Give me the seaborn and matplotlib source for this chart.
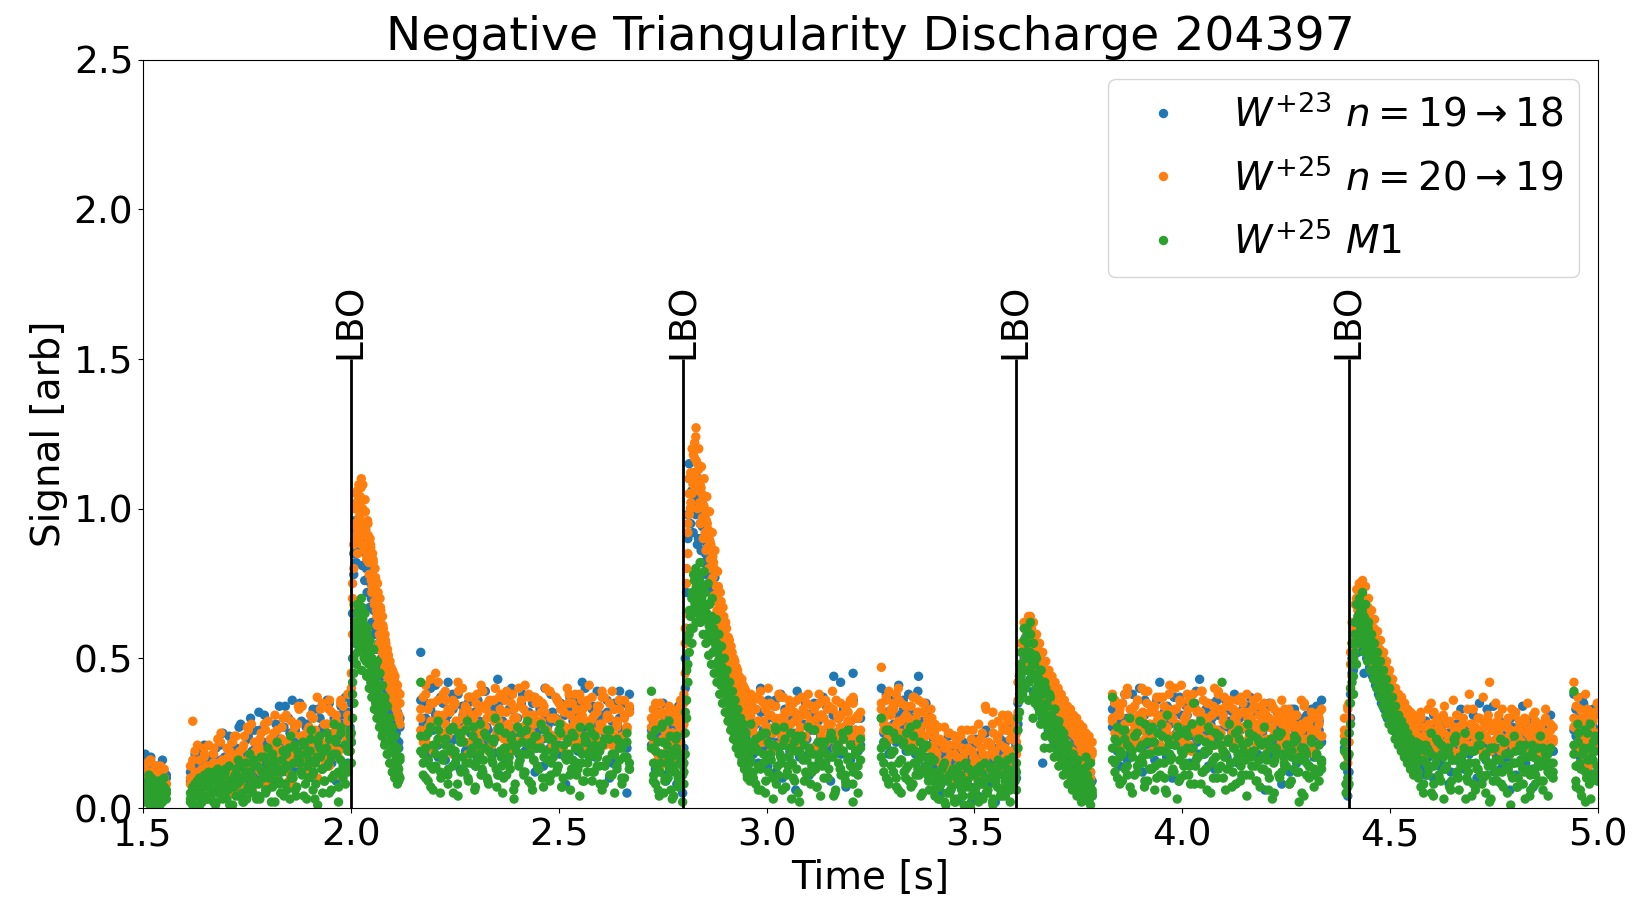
import numpy as np
import pandas as pd
import matplotlib
matplotlib.use("Agg")
import matplotlib.pyplot as plt
import seaborn as sns

# ---- data -------------------------------------------------------------
series_labels = [r"$W^{+23}$ $n=19\rightarrow18$",
                 r"$W^{+25}$ $n=20\rightarrow19$",
                 r"$W^{+25}$ $M1$"]
series_colors = ["#1f77b4", "#ff7f0e", "#2ca02c"]

lbo_times = [2.0, 2.8, 3.6, 4.4]
lbo_top = 1.5

# time windows of the acquired samples (s)
seg_start = [1.500, 1.614, 2.001, 2.168, 2.723, 2.801, 2.962, 3.276, 3.601, 3.832, 4.390, 4.401, 4.562, 4.942]
seg_end   = [1.556, 1.998, 2.118, 2.670, 2.798, 2.960, 3.226, 3.598, 3.783, 4.335, 4.398, 4.560, 4.892, 4.998]

# ---------- W+23 n=19->18 (blue) ----------
w23_n19_a = [
    [.12,.18,.08,.15,.05,.10,.14,.03,.09,.13,.06,.11],
    [.12,.06,.18,.10,.14,.08,.21,.15,.04,.17,.11,.20,.09,.16,.25,.07,.13,.19,.22,.10,
     .15,.27,.12,.18,.08,.24,.30,.14,.20,.11,.26,.16,.31,.13,.21,.09,.18,.28,.15,.23,
     .19,.34,.12,.25,.36,.17,.22,.14,.29,.20,.27,.11,.24,.33,.16,.21,.30,.13,.26,.19,
     .35,.17,.28,.09,.24,.31,.20,.37,.15,.27],
    [.22,.50,.85,.93,1.00,.88,1.04,.95,.90,.99,.86,.93,.80,.88,.77,.84,.70,.78,.66,.73,
     .60,.68,.55,.63,.50,.57,.45,.52,.40,.47,.36,.43,.32,.39,.28,.35,.25,.32,.22,.30],
    [.52,.28,.35,.20,.40,.26,.31,.17,.37,.24,.29,.42,.22,.33,.15,.38,.27,.31,.19,.35,
     .25,.30,.14,.36,.28,.22,.39,.26,.32,.18,.34,.43,.24,.29,.16,.37,.27,.33,.21,.30,
     .25,.38,.19,.31,.26,.35,.12,.28,.33,.23,.40,.27,.20,.32,.29,.36,.18,.25,.31,.22,
     .37,.26,.30,.15,.34,.42,.24,.28,.21,.33,.27,.39,.19,.31,.25,.36,.10,.29,.34,.22,
     .30,.26,.35,.05,.38],
    [.26,.33,.19,.28,.14,.31,.23,.09,.27,.21,.30,.16,.25,.34,.20,.05],
    [.20,.40,.60,.90,1.10,.95,1.02,1.08,1.20,1.05,.88,1.10,.95,1.02,.90,.97,.85,.92,.80,.87,
     .75,.82,.70,.77,.64,.72,.60,.66,.55,.62,.50,.57,.46,.52,.42,.49,.39,.45,.36,.42,
     .33,.40,.30,.37,.28,.35,.26,.32,.22,.30],
    [.35,.22,.28,.15,.32,.26,.19,.36,.24,.30,.12,.27,.38,.21,.29,.17,.33,.25,.06,.31,
     .23,.28,.35,.18,.26,.32,.14,.29,.24,.37,.20,.27,.09,.31,.25,.22,.42,.19,.34,.28,
     .16,.45,.26,.30,.21],
    [.40,.25,.32,.18,.36,.28,.22,.41,.26,.33,.19,.38,.24,.30,.15,.44,.27,.21,.35,.17,
     .29,.23,.16,.20,.08,.18,.11,.24,.06,.15,.19,.03,.13,.22,.10,.17,.07,.21,.14,.04,
     .18,.12,.25,.09,.16,.20,.02,.14,.23,.11,.19,.26,.08,.17,.22],
    [.10,.28,.38,.46,.42,.50,.55,.47,.58,.52,.48,.56,.44,.50,.40,.47,.36,.15,.42,.33,
     .39,.30,.36,.27,.34,.25,.31,.22,.29,.20,.27,.18,.25,.16,.23,.14,.21,.13,.19,.11,
     .17,.10,.16,.08,.14,.07,.13,.05,.12,.04],
    [.33,.20,.28,.14,.35,.24,.30,.18,.38,.26,.22,.31,.12,.36,.27,.21,.33,.16,.29,.42,
     .25,.19,.34,.28,.10,.32,.23,.37,.26,.20,.31,.15,.28,.35,.22,.43,.27,.18,.33,.24,
     .30,.13,.36,.26,.21,.32,.17,.29,.25,.38,.22,.30,.11,.27,.34,.19,.28,.24,.32,.16,
     .26,.30,.21,.35,.18,.27,.23,.31,.08,.25,.29,.20,.33,.24,.15,.28,.22,.30,.19,.26,
     .33,.17,.24,.29,.36],
    [.20,.08,.12],
    [.12,.30,.45,.52,.48,.60,.55,.64,.58,.68,.45,.66,.60,.63,.56,.60,.52,.57,.49,.54,
     .46,.50,.43,.47,.40,.44,.37,.41,.34,.39,.32,.36,.30,.34,.28,.32,.26,.30,.25,.29,
     .23,.28,.22,.27,.21],
    [.24,.15,.29,.20,.11,.26,.18,.31,.22,.14,.27,.19,.24,.08,.28,.21,.16,.25,.30,.13,
     .23,.18,.27,.20,.10,.35,.24,.17,.33,.22,.26,.12,.20,.29,.16,.24,.19,.06,.27,.21,
     .25,.15,.34,.22,.18,.26,.13,.23,.28,.17,.21,.25,.14,.31,.19],
    [.38,.24,.30,.17,.37,.21,.27,.12,.25,.33,.19,.23],
]
w23_n19_b = [
    [.09,.15,.04,.12,.17,.07,.11,.02,.14,.08,.16,.05,.10],
    [.09,.15,.05,.13,.19,.11,.07,.16,.12,.03,.18,.10,.14,.21,.08,.17,.12,.24,.15,.06,
     .20,.13,.28,.17,.10,.23,.15,.19,.26,.12,.32,.18,.22,.14,.29,.20,.16,.25,.11,.34,
     .21,.27,.17,.30,.23,.13,.26,.19,.35,.24,.16,.28,.22,.31,.10,.25,.33,.18,.27,.21,
     .36,.24,.15,.30,.26,.20,.34,.28,.12,.32,.25],
    [.35,.65,.78,.96,.82,.92,1.00,.86,.94,.81,.90,.76,.85,.72,.80,.67,.75,.62,.71,.58,
     .66,.53,.62,.48,.58,.44,.53,.40,.49,.37,.45,.33,.42,.30,.38,.26,.34,.23,.31,.20,.27],
    [.36,.24,.30,.18,.33,.27,.41,.21,.29,.35,.16,.31,.26,.38,.23,.28,.13,.34,.30,.20,
     .37,.25,.32,.17,.29,.39,.22,.27,.34,.19,.31,.26,.11,.36,.28,.23,.33,.40,.25,.30,
     .18,.35,.27,.22,.32,.29,.37,.20,.26,.33,.14,.31,.28,.38,.24,.30,.21,.35,.27,.08,
     .33,.25,.29,.36,.19,.31,.26,.40,.23,.28,.34,.17,.30,.27,.37,.22,.32,.25,.15,.35,
     .28,.39,.24,.31,.20,.33],
    [.21,.29,.13,.32,.24,.18,.35,.11,.26,.30,.15,.23,.28,.08,.31,.22,.17],
    [.25,.50,.72,.98,1.15,1.00,1.06,.92,1.12,.98,1.04,.90,.99,.86,.94,.82,.89,.78,.84,.73,
     .79,.69,.74,.64,.70,.60,.65,.56,.60,.52,.56,.48,.53,.44,.49,.40,.46,.37,.43,.34,
     .40,.32,.37,.29,.34,.26,.31,.24,.29,.21,.26],
    [.27,.18,.33,.24,.40,.20,.29,.14,.31,.25,.36,.22,.28,.10,.33,.26,.19,.30,.24,.39,
     .17,.28,.32,.23,.11,.29,.35,.21,.26,.31,.15,.34,.27,.20,.44,.25,.30,.18,.33,.07,
     .28,.22,.36,.24,.19,.30],
    [.30,.22,.38,.27,.19,.34,.25,.31,.16,.36,.28,.21,.33,.26,.18,.39,.23,.29,.14,.32,
     .20,.25,.13,.18,.22,.05,.16,.20,.09,.14,.24,.11,.17,.07,.21,.13,.19,.02,.15,.23,
     .10,.18,.14,.26,.08,.21,.16,.11,.24,.19,.06,.22,.17,.28,.13,.20],
    [.20,.35,.44,.40,.52,.46,.57,.49,.54,.43,.51,.39,.47,.36,.44,.33,.41,.30,.39,.28,
     .36,.26,.34,.24,.32,.22,.30,.20,.28,.18,.26,.17,.24,.15,.22,.13,.20,.12,.19,.10,
     .17,.09,.15,.07,.14,.06,.12,.05,.11,.04,.09],
    [.27,.35,.19,.30,.24,.38,.16,.29,.33,.22,.27,.40,.20,.31,.25,.13,.34,.28,.36,.21,
     .26,.32,.17,.29,.23,.37,.25,.09,.31,.27,.34,.20,.28,.24,.39,.18,.30,.26,.33,.14,
     .28,.35,.22,.31,.25,.19,.36,.27,.23,.32,.29,.15,.26,.33,.20,.30,.37,.24,.27,.18,
     .31,.25,.06,.29,.34,.22,.28,.32,.19,.26,.30,.23,.12,.27,.33,.21,.29,.25,.17,.31,
     .24,.28,.20,.34,.26,.22],
    [.14,.25,.04],
    [.25,.38,.50,.46,.56,.62,.52,.65,.58,.61,.54,.59,.50,.56,.47,.53,.44,.50,.41,.47,
     .38,.44,.35,.41,.33,.38,.30,.36,.28,.34,.26,.32,.25,.30,.23,.28,.22,.27,.20,.26,
     .19,.24,.18,.23,.17,.22],
    [.19,.26,.13,.23,.29,.17,.21,.10,.27,.24,.15,.30,.20,.25,.12,.22,.28,.18,.33,.21,
     .14,.26,.19,.31,.23,.09,.25,.20,.16,.28,.22,.34,.18,.24,.13,.27,.21,.17,.30,.23,
     .11,.26,.19,.25,.15,.29,.22,.07,.24,.18,.27,.20,.16,.28,.23,.19],
    [.26,.33,.14,.29,.22,.35,.18,.25,.30,.16,.27,.21,.10],
]

# ---------- W+25 n=20->19 (orange) ----------
w25_n20_a = [
    [.10,.06,.15,.12,.04,.09,.14,.07,.11,.05,.13,.08],
    [.08,.29,.12,.05,.16,.10,.20,.07,.14,.11,.18,.06,.13,.22,.09,.15,.04,.19,.12,.24,
     .10,.17,.08,.21,.14,.26,.11,.07,.19,.15,.23,.12,.28,.09,.18,.14,.25,.11,.20,.16,
     .30,.13,.22,.17,.08,.27,.19,.33,.15,.24,.12,.21,.31,.18,.26,.10,.23,.35,.17,.28,
     .14,.32,.22,.29,.19,.36,.25,.13,.38,.30],
    [.30,.58,.80,.95,1.05,.92,1.08,.98,1.10,1.00,.94,1.03,.88,.96,.82,.90,.76,.85,.72,.80,
     .66,.75,.62,.70,.56,.64,.50,.58,.46,.53,.42,.49,.40,.46,.36,.44,.34,.41,.30,.38],
    [.30,.22,.41,.27,.35,.19,.45,.31,.24,.38,.28,.33,.20,.36,.26,.42,.23,.30,.34,.18,
     .29,.37,.25,.32,.21,.39,.27,.35,.23,.31,.40,.26,.33,.19,.36,.28,.24,.38,.30,.22,
     .34,.27,.41,.25,.31,.20,.37,.29,.23,.35,.32,.26,.39,.21,.30,.36,.24,.33,.27,.40,
     .22,.35,.29,.25,.38,.31,.19,.34,.28,.37,.23,.32,.26,.39,.21,.30,.35,.24,.33,.28,
     .36,.22,.31,.27,.34],
    [.30,.22,.35,.18,.27,.32,.15,.25,.29,.20,.33,.24,.17,.28,.36,.30],
    [.28,.45,.65,.85,.98,1.12,1.05,1.18,1.22,1.27,1.15,1.20,1.08,1.14,1.03,1.10,.98,1.04,.93,.99,
     .88,.92,.82,.86,.74,.79,.68,.72,.63,.67,.58,.62,.53,.57,.48,.54,.45,.50,.42,.47,
     .40,.44,.37,.43,.35,.40,.33,.38,.31,.36],
    [.38,.27,.33,.22,.36,.29,.25,.40,.31,.20,.34,.26,.30,.37,.23,.32,.28,.35,.21,.30,
     .27,.33,.24,.38,.29,.19,.34,.26,.31,.22,.36,.28,.25,.33,.20,.30,.35,.27,.23,.32,
     .29,.37,.24,.31,.26],
    [.47,.30,.36,.27,.33,.24,.38,.29,.35,.22,.31,.27,.34,.20,.30,.36,.25,.32,.21,.28,
     .33,.24,.19,.27,.15,.22,.12,.25,.18,.10,.21,.14,.24,.17,.09,.20,.13,.26,.16,.11,
     .23,.18,.34,.14,.21,.32,.17,.24,.12,.27,.20,.29,.15,.25,.30],
    [.18,.32,.44,.40,.52,.48,.56,.60,.55,.64,.59,.62,.54,.58,.50,.55,.47,.52,.44,.49,
     .41,.46,.38,.44,.36,.42,.34,.40,.32,.38,.30,.36,.28,.34,.27,.33,.25,.31,.24,.30,
     .22,.28,.20,.27,.19,.25,.17,.24,.16,.22],
    [.38,.25,.31,.20,.35,.28,.40,.23,.33,.27,.36,.22,.30,.39,.26,.32,.19,.34,.29,.37,
     .24,.31,.27,.41,.22,.33,.28,.36,.25,.30,.38,.21,.34,.27,.32,.24,.39,.29,.35,.23,
     .31,.40,.26,.33,.20,.37,.28,.34,.25,.30,.36,.22,.32,.27,.38,.24,.29,.34,.21,.31,
     .26,.35,.23,.30,.27,.33,.20,.29,.36,.24,.28,.32,.22,.27,.31,.19,.26,.34,.23,.29,
     .25,.31,.21,.28,.33],
    [.30,.22,.15],
    [.22,.40,.55,.50,.62,.58,.67,.63,.72,.76,.70,.74,.66,.70,.62,.66,.58,.63,.55,.59,
     .51,.56,.48,.52,.44,.49,.41,.46,.39,.43,.36,.40,.34,.38,.32,.37,.30,.35,.29,.33,
     .27,.32,.26,.31,.25],
    [.28,.21,.32,.24,.19,.27,.35,.22,.26,.30,.20,.25,.29,.23,.18,.27,.31,.22,.26,.20,
     .24,.38,.28,.21,.25,.30,.19,.27,.23,.42,.26,.20,.29,.24,.33,.22,.27,.18,.25,.31,
     .23,.28,.21,.26,.35,.24,.19,.29,.22,.27,.25,.30,.20,.26,.23],
    [.42,.28,.22,.33,.18,.26,.31,.14,.24,.29,.20,.35],
]
w25_n20_b = [
    [.13,.08,.03,.11,.16,.06,.12,.09,.02,.14,.07,.10,.05],
    [.14,.07,.19,.10,.04,.13,.17,.09,.21,.06,.15,.11,.23,.08,.16,.12,.20,.05,.18,.13,
     .24,.09,.16,.20,.12,.27,.15,.10,.22,.17,.13,.25,.19,.08,.29,.16,.21,.12,.26,.18,
     .23,.14,.31,.19,.11,.25,.20,.28,.16,.34,.22,.17,.27,.13,.30,.24,.19,.33,.21,.15,
     .28,.36,.18,.25,.31,.11,.27,.34,.20,.29,.24],
    [.40,.70,.88,1.00,.94,1.06,.90,1.02,1.07,.95,.99,.86,.93,.84,.91,.78,.87,.74,.82,.69,
     .77,.64,.72,.58,.67,.54,.61,.49,.56,.45,.51,.43,.47,.39,.44,.36,.42,.33,.39,.31,.35],
    [.26,.37,.23,.33,.43,.28,.21,.36,.30,.25,.39,.24,.32,.18,.35,.29,.26,.40,.22,.33,
     .27,.31,.20,.38,.28,.34,.24,.30,.36,.21,.29,.25,.37,.32,.23,.39,.27,.19,.33,.30,
     .26,.36,.22,.31,.38,.24,.28,.35,.21,.32,.27,.40,.25,.30,.23,.37,.29,.33,.20,.26,
     .35,.31,.24,.38,.27,.22,.33,.29,.36,.25,.30,.20,.34,.28,.37,.23,.31,.26,.39,.24,
     .29,.33,.21,.36,.27,.32],
    [.24,.33,.19,.28,.13,.31,.22,.26,.17,.34,.21,.29,.12,.25,.32,.19,.27],
    [.35,.55,.75,.92,1.05,1.00,1.12,1.08,1.17,1.24,1.10,1.13,1.02,1.07,.97,1.01,.92,.96,.87,.90,
     .83,.86,.77,.80,.70,.74,.65,.69,.60,.64,.55,.59,.51,.56,.47,.52,.44,.49,.41,.46,
     .38,.43,.36,.41,.34,.39,.32,.37,.30,.35,.28],
    [.31,.36,.24,.29,.39,.22,.33,.27,.35,.25,.30,.21,.37,.28,.32,.24,.34,.19,.29,.36,
     .26,.31,.23,.35,.28,.20,.33,.27,.38,.24,.30,.22,.34,.28,.25,.36,.21,.31,.27,.33,
     .23,.29,.35,.26,.30,.24],
    [.33,.28,.37,.24,.31,.35,.26,.40,.29,.23,.34,.30,.25,.37,.22,.32,.27,.35,.24,.30,
     .26,.21,.28,.16,.23,.11,.20,.14,.25,.09,.18,.22,.12,.26,.15,.19,.10,.23,.17,.13,
     .28,.20,.15,.33,.22,.18,.25,.13,.29,.21,.26,.17,.31,.23,.19,.27],
    [.25,.42,.36,.55,.47,.62,.50,.58,.64,.52,.60,.48,.57,.45,.54,.42,.50,.40,.47,.37,
     .45,.34,.42,.31,.40,.29,.38,.27,.35,.25,.33,.24,.31,.22,.30,.20,.28,.19,.27,.17,
     .25,.16,.24,.14,.22,.13,.21,.12,.20,.10,.18],
    [.30,.36,.24,.33,.27,.21,.38,.29,.25,.34,.22,.31,.40,.26,.35,.28,.23,.32,.37,.20,
     .29,.34,.25,.38,.30,.22,.33,.27,.41,.24,.31,.36,.19,.28,.33,.26,.39,.23,.30,.35,
     .27,.21,.32,.38,.25,.29,.34,.22,.36,.28,.24,.31,.27,.35,.20,.30,.25,.33,.28,.37,
     .23,.29,.32,.21,.27,.34,.25,.30,.19,.28,.33,.24,.29,.22,.31,.26,.20,.28,.35,.23,
     .27,.30,.18,.25,.32,.24],
    [.26,.18,.33],
    [.30,.48,.44,.60,.54,.70,.66,.75,.68,.73,.64,.70,.60,.67,.57,.63,.53,.60,.50,.56,
     .46,.53,.43,.50,.40,.47,.38,.44,.35,.41,.33,.39,.31,.37,.29,.35,.28,.33,.26,.32,
     .25,.30,.23,.29,.22,.28],
    [.24,.30,.19,.27,.22,.33,.25,.18,.29,.23,.26,.31,.20,.28,.24,.36,.22,.27,.19,.30,
     .25,.21,.28,.33,.23,.26,.20,.29,.24,.31,.22,.27,.35,.25,.19,.28,.23,.30,.26,.21,
     .32,.24,.27,.20,.29,.25,.22,.31,.26,.18,.28,.23,.33,.25,.21,.27],
    [.30,.20,.37,.25,.15,.28,.22,.33,.18,.27,.24,.31,.21],
]
w25_n20_c = [
    [.12,.05,.09,.16,.03,.11,.07,.14,.06,.10,.08],
    [.10,.16,.06,.21,.12,.08,.18,.14,.03,.11,.20,.09,.15,.25,.07,.13,.17,.10,.22,.16,
     .06,.19,.13,.24,.11,.17,.28,.09,.15,.21,.12,.18,.26,.10,.23,.15,.31,.19,.13,.27,
     .17,.22,.09,.29,.20,.15,.34,.24,.18,.12,.26,.21,.30,.16,.37,.23,.19,.28,.14,.33,
     .25,.20,.29,.17,.35,.26,.22,.31,.19],
    [.45,.75,.68,.90,1.02,.85,.97,1.04,.88,1.08,.91,.99,.83,.95,.78,.88,.72,.83,.68,.76,
     .61,.70,.55,.66,.52,.60,.47,.55,.44,.51,.40,.47,.37,.45,.34,.41,.31,.38,.28],
    [.33,.25,.38,.21,.29,.35,.27,.42,.23,.31,.36,.26,.20,.34,.29,.39,.24,.32,.27,.37,
     .22,.30,.35,.25,.41,.28,.33,.19,.31,.36,.24,.29,.38,.26,.32,.21,.35,.30,.27,.40,
     .23,.33,.28,.37,.25,.31,.22,.36,.29,.34,.26,.39,.24,.30,.20,.35,.28,.32,.25,.38,
     .27,.22,.33,.30,.36,.24,.29,.41,.26,.31,.23,.34,.28,.37,.25,.30,.21,.33,.27,.36,
     .24,.30,.26,.32],
    [.27,.20,.31,.16,.35,.23,.28,.19,.32,.25,.14,.30,.22,.34,.26],
    [.38,.60,.80,.95,1.10,1.02,1.20,1.12,1.06,1.16,1.00,1.09,.95,1.05,.90,1.00,.86,.95,.80,.89,
     .76,.84,.71,.79,.66,.74,.61,.69,.56,.64,.52,.60,.49,.56,.45,.52,.42,.49,.39,.46,
     .37,.43,.34,.41,.32,.39,.30,.36,.33],
    [.33,.25,.37,.29,.22,.35,.27,.31,.19,.34,.28,.38,.24,.30,.26,.36,.21,.32,.29,.25,
     .37,.23,.31,.27,.34,.20,.30,.35,.26,.22,.33,.28,.39,.24,.31,.27,.23,.34,.29,.36,
     .25,.30,.21,.32],
    [.35,.26,.31,.39,.23,.33,.28,.36,.25,.30,.34,.22,.29,.37,.27,.32,.24,.35,.28,.20,
     .30,.25,.18,.22,.13,.27,.16,.21,.11,.24,.17,.08,.20,.14,.26,.12,.19,.15,.22,.10,
     .25,.16,.21,.13,.28,.19,.23,.15,.31,.20,.26,.18,.29,.24],
    [.22,.36,.48,.42,.55,.60,.50,.62,.57,.48,.55,.44,.53,.40,.50,.38,.47,.35,.45,.33,
     .42,.31,.40,.29,.37,.27,.35,.25,.33,.24,.31,.22,.30,.21,.28,.19,.27,.18,.25,.17,
     .24,.15,.23,.14,.21,.13,.20,.12,.19],
    [.29,.35,.22,.31,.27,.38,.24,.33,.20,.30,.36,.26,.32,.23,.39,.28,.34,.25,.31,.21,
     .37,.27,.33,.24,.30,.40,.26,.35,.22,.29,.33,.25,.38,.28,.23,.32,.36,.27,.30,.21,
     .34,.26,.39,.24,.31,.28,.35,.22,.33,.29,.25,.37,.27,.32,.23,.30,.36,.26,.28,.34,
     .21,.31,.27,.35,.24,.29,.32,.22,.30,.26,.33,.19,.28,.31,.25,.36,.23,.29,.27,.32,
     .20,.26,.30,.24],
    [.24,.34],
    [.35,.52,.62,.56,.68,.73,.64,.71,.60,.69,.57,.65,.54,.62,.51,.58,.47,.55,.44,.52,
     .41,.49,.38,.46,.36,.43,.34,.40,.31,.38,.29,.36,.28,.34,.26,.32,.25,.31,.24,.29,
     .22,.28,.21,.27],
    [.26,.21,.30,.24,.18,.28,.23,.32,.20,.27,.25,.34,.22,.29,.19,.26,.31,.23,.28,.21,
     .33,.25,.20,.27,.30,.22,.37,.24,.29,.19,.26,.23,.31,.27,.21,.28,.24,.33,.20,.26,
     .29,.22,.30,.25,.18,.27,.32,.23,.26,.21,.29,.24,.28,.22],
    [.27,.34,.19,.30,.23,.38,.21,.28,.16,.32,.25],
]

# ---------- W+25 M1 (green) ----------
w25_m1_a = [
    [.04,.08,.02,.06,.10,.03,.05,.09,.01,.07,.04,.06],
    [.03,.07,.01,.09,.05,.02,.08,.04,.10,.06,.02,.11,.05,.08,.03,.12,.06,.01,.09,.07,
     .13,.04,.10,.02,.15,.07,.11,.05,.08,.14,.03,.12,.17,.06,.10,.02,.16,.09,.13,.05,
     .19,.08,.14,.03,.11,.21,.07,.16,.12,.04,.18,.10,.23,.06,.15,.01,.20,.13,.09,.25,
     .05,.17,.11,.22,.02,.27,.14,.08,.19,.24],
    [.15,.30,.45,.55,.60,.52,.66,.58,.70,.62,.55,.65,.52,.60,.48,.56,.50,.44,.53,.46,
     .40,.49,.37,.45,.33,.41,.30,.37,.26,.34,.22,.30,.19,.27,.15,.24,.12,.20,.09,.17],
    [.42,.18,.10,.25,.14,.06,.21,.29,.12,.17,.23,.08,.19,.27,.15,.04,.22,.13,.26,.10,
     .18,.24,.07,.16,.28,.12,.20,.09,.23,.15,.30,.11,.19,.05,.25,.17,.13,.21,.08,.27,
     .16,.22,.12,.29,.18,.06,.24,.14,.20,.10,.26,.16,.09,.23,.19,.13,.28,.07,.17,.22,
     .11,.25,.15,.20,.04,.18,.24,.12,.27,.09,.21,.14,.19,.06,.23,.16,.26,.11,.18,.13,
     .22,.08,.17,.25,.15],
    [.39,.15,.08,.22,.12,.27,.05,.18,.10,.24,.03,.14,.20,.07,.16,.11],
    [.08,.18,.30,.42,.52,.60,.55,.66,.72,.62,.78,.70,.82,.74,.68,.79,.72,.65,.75,.68,
     .62,.70,.60,.55,.63,.52,.58,.48,.54,.44,.50,.40,.46,.37,.42,.33,.39,.30,.36,.27,
     .33,.24,.30,.20,.28,.17,.25,.14,.22,.12],
    [.28,.12,.20,.06,.24,.15,.09,.22,.18,.03,.26,.11,.17,.21,.07,.14,.25,.10,.19,.05,
     .23,.16,.12,.27,.08,.18,.13,.22,.04,.20,.15,.10,.24,.17,.06,.21,.13,.19,.09,.26,
     .14,.02,.18,.11,.23],
    [.30,.12,.21,.08,.18,.25,.10,.15,.05,.22,.13,.19,.07,.24,.11,.16,.04,.20,.14,.09,
     .17,.06,.12,.03,.09,.14,.01,.10,.06,.13,.02,.08,.11,.04,.15,.07,.00,.12,.05,.09,
     .14,.03,.10,.06,.13,.01,.08,.11,.04,.15,.07,.10,.02,.12,.09],
    [.06,.20,.32,.44,.38,.52,.46,.58,.50,.62,.45,.55,.35,.50,.42,.32,.46,.38,.20,.40,
     .34,.28,.37,.30,.25,.33,.22,.28,.19,.26,.16,.23,.14,.20,.12,.18,.10,.16,.08,.15,
     .06,.13,.04,.11,.03,.09,.14,.02,.08,.05],
    [.37,.15,.22,.08,.18,.26,.11,.20,.05,.24,.14,.29,.17,.09,.22,.13,.27,.06,.19,.15,
     .24,.10,.31,.18,.12,.21,.03,.16,.25,.11,.20,.14,.28,.08,.17,.23,.12,.19,.06,.26,
     .15,.21,.10,.24,.42,.17,.13,.28,.07,.20,.16,.23,.11,.18,.04,.25,.14,.19,.09,.22,
     .13,.27,.16,.10,.20,.05,.18,.24,.12,.15,.21,.08,.17,.13,.23,.02,.16,.19,.11,.14,
     .22,.07,.18,.12,.15],
    [.14,.05,.10],
    [.08,.28,.42,.38,.52,.48,.58,.62,.66,.72,.64,.68,.58,.62,.54,.58,.50,.55,.47,.52,
     .44,.49,.41,.46,.38,.43,.35,.40,.32,.37,.29,.34,.27,.31,.24,.29,.22,.27,.20,.25,
     .18,.23,.16,.21,.15],
    [.22,.10,.16,.05,.19,.13,.25,.08,.17,.11,.21,.03,.14,.18,.09,.23,.12,.06,.16,.20,
     .10,.15,.04,.19,.13,.24,.08,.17,.11,.02,.14,.20,.09,.16,.12,.22,.05,.18,.10,.15,
     .07,.21,.13,.03,.17,.11,.19,.08,.14,.24,.06,.16,.12,.20,.10],
    [.39,.14,.22,.06,.18,.26,.10,.20,.03,.16,.24,.12],
]
w25_m1_b = [
    [.07,.02,.05,.11,.03,.08,.01,.06,.04,.09,.02,.07,.05],
    [.05,.01,.08,.04,.10,.02,.07,.03,.12,.06,.09,.01,.13,.05,.08,.11,.03,.14,.07,.10,
     .04,.16,.09,.02,.12,.06,.18,.10,.14,.03,.08,.17,.11,.05,.20,.13,.07,.15,.22,.09,
     .12,.04,.18,.14,.24,.10,.06,.19,.15,.11,.21,.03,.16,.26,.12,.08,.22,.17,.05,.19,
     .14,.23,.10,.28,.18,.07,.25,.15,.21,.12,.26],
    [.22,.38,.50,.62,.56,.68,.60,.64,.57,.67,.53,.61,.49,.58,.45,.54,.42,.50,.39,.47,
     .35,.44,.32,.40,.29,.36,.25,.33,.22,.29,.18,.26,.15,.23,.12,.21,.10,.18,.14,.11,.16],
    [.24,.15,.20,.09,.27,.13,.18,.23,.05,.16,.21,.11,.26,.14,.19,.08,.24,.17,.12,.29,
     .15,.20,.06,.22,.18,.13,.25,.10,.19,.16,.23,.07,.27,.14,.20,.11,.17,.24,.03,.21,
     .15,.18,.12,.26,.09,.22,.16,.20,.13,.28,.07,.19,.24,.11,.17,.21,.14,.25,.10,.18,
     .23,.06,.16,.20,.13,.27,.09,.22,.15,.19,.12,.24,.17,.08,.21,.14,.26,.11,.18,.05,
     .23,.16,.20,.10,.17,.13],
    [.20,.09,.26,.13,.04,.18,.22,.10,.15,.29,.06,.19,.12,.24,.08,.17,.02],
    [.12,.25,.36,.48,.58,.64,.70,.60,.76,.80,.72,.66,.76,.70,.63,.72,.66,.58,.68,.61,
     .56,.64,.52,.59,.48,.55,.45,.50,.41,.47,.38,.44,.35,.40,.31,.37,.28,.34,.25,.31,
     .22,.28,.19,.26,.16,.23,.13,.21,.10,.18,.15],
    [.16,.22,.08,.19,.13,.25,.05,.17,.21,.10,.27,.14,.18,.06,.23,.12,.20,.15,.09,.24,
     .02,.17,.21,.11,.19,.14,.26,.07,.16,.22,.10,.18,.13,.25,.04,.20,.15,.11,.23,.08,
     .17,.21,.12,.19,.05,.16],
    [.20,.15,.26,.09,.18,.12,.23,.06,.16,.21,.10,.14,.27,.08,.19,.13,.22,.05,.17,.11,
     .15,.09,.04,.11,.07,.13,.02,.09,.05,.12,.03,.10,.14,.06,.01,.09,.13,.04,.11,.07,
     .02,.12,.08,.05,.10,.14,.03,.09,.16,.06,.11,.04,.13,.08,.17,.10],
    [.12,.26,.36,.48,.42,.56,.40,.60,.36,.52,.44,.30,.48,.40,.34,.43,.28,.38,.32,.24,
     .35,.27,.20,.31,.23,.17,.28,.19,.14,.24,.16,.11,.21,.13,.08,.18,.10,.06,.15,.09,
     .04,.13,.07,.02,.11,.05,.17,.03,.09,.01,.06],
    [.20,.12,.27,.17,.09,.23,.14,.30,.19,.11,.25,.16,.21,.07,.18,.26,.13,.22,.10,.19,
     .28,.15,.05,.21,.17,.12,.24,.09,.19,.14,.26,.11,.20,.35,.16,.23,.08,.18,.13,.27,
     .21,.10,.17,.24,.14,.19,.06,.22,.15,.12,.25,.18,.09,.21,.16,.28,.11,.19,.14,.23,
     .07,.17,.22,.12,.20,.03,.16,.25,.10,.18,.14,.21,.08,.19,.24,.12,.17,.05,.20,.15,
     .10,.22,.13,.18,.09,.16],
    [.22,.08,.17],
    [.18,.35,.48,.44,.58,.55,.64,.70,.60,.66,.57,.63,.53,.60,.50,.56,.46,.52,.43,.49,
     .40,.46,.37,.43,.34,.40,.31,.37,.28,.34,.26,.31,.23,.29,.21,.27,.19,.25,.17,.23,
     .15,.21,.13,.19,.11,.18],
    [.14,.19,.07,.16,.21,.11,.18,.04,.15,.22,.09,.17,.13,.20,.06,.16,.24,.10,.14,.18,
     .03,.12,.19,.08,.15,.21,.11,.17,.05,.14,.20,.09,.16,.12,.23,.07,.18,.13,.01,.15,
     .19,.10,.16,.08,.21,.13,.06,.17,.11,.20,.14,.09,.18,.04,.15,.12],
    [.21,.09,.28,.15,.04,.19,.12,.25,.08,.17,.22,.10,.14],
]
w25_m1_c = [
    [.06,.03,.09,.01,.05,.08,.02,.07,.04,.10,.03],
    [.02,.06,.04,.09,.01,.07,.11,.03,.08,.05,.12,.02,.07,.10,.04,.13,.06,.09,.01,.11,
     .08,.14,.05,.10,.03,.12,.07,.16,.09,.04,.13,.10,.06,.15,.11,.18,.02,.12,.08,.16,
     .13,.06,.20,.10,.15,.04,.17,.12,.22,.08,.14,.19,.11,.03,.17,.24,.13,.09,.20,.15,
     .06,.18,.23,.12,.16,.10,.21,.14,.19],
    [.25,.42,.35,.58,.48,.65,.54,.60,.46,.63,.50,.57,.44,.52,.40,.48,.37,.45,.33,.42,
     .30,.38,.27,.35,.24,.31,.21,.28,.18,.25,.15,.22,.12,.20,.10,.17,.08,.13,.10],
    [.19,.11,.24,.16,.07,.21,.14,.26,.10,.18,.23,.13,.20,.05,.17,.25,.12,.22,.15,.09,
     .19,.27,.14,.21,.11,.16,.24,.08,.18,.22,.13,.26,.17,.10,.20,.15,.23,.06,.19,.14,
     .25,.11,.18,.21,.08,.16,.24,.13,.20,.17,.10,.23,.15,.19,.12,.26,.07,.21,.16,.18,
     .13,.24,.11,.20,.15,.09,.22,.17,.25,.12,.19,.14,.21,.08,.16,.23,.11,.18,.14,.20,
     .10,.17,.22,.13],
    [.24,.11,.19,.06,.15,.28,.09,.21,.13,.17,.04,.23,.10,.18,.14],
    [.15,.32,.46,.56,.66,.60,.72,.78,.68,.74,.65,.76,.62,.70,.58,.66,.55,.63,.51,.60,
     .48,.57,.45,.53,.42,.49,.38,.46,.35,.42,.32,.39,.29,.35,.26,.32,.23,.29,.20,.27,
     .18,.25,.15,.22,.13,.20,.11,.17,.09],
    [.19,.10,.23,.14,.06,.18,.25,.12,.16,.21,.08,.20,.15,.27,.11,.17,.03,.22,.13,.19,
     .24,.09,.16,.20,.12,.26,.07,.18,.14,.22,.10,.17,.23,.05,.19,.13,.25,.11,.16,.21,
     .08,.18,.14,.20],
    [.17,.22,.10,.26,.14,.19,.07,.23,.16,.12,.25,.09,.20,.15,.28,.11,.18,.13,.21,.06,
     .12,.16,.08,.03,.10,.15,.05,.11,.07,.02,.12,.08,.04,.14,.09,.01,.11,.06,.13,.03,
     .08,.15,.05,.10,.02,.12,.07,.14,.04,.09,.16,.06,.11,.13],
    [.15,.30,.40,.52,.46,.60,.50,.55,.42,.58,.48,.38,.51,.44,.36,.46,.40,.30,.42,.34,
     .27,.38,.30,.23,.33,.26,.19,.29,.22,.16,.25,.18,.13,.21,.15,.10,.18,.12,.07,.16,
     .10,.05,.13,.08,.03,.11,.06,.15,.04],
    [.16,.23,.10,.19,.26,.13,.21,.07,.17,.24,.12,.20,.15,.28,.09,.18,.22,.14,.25,.11,
     .19,.06,.23,.16,.13,.21,.27,.10,.18,.15,.24,.08,.20,.14,.17,.29,.12,.22,.19,.05,
     .16,.25,.13,.21,.10,.18,.23,.15,.20,.08,.26,.14,.19,.11,.22,.17,.24,.09,.16,.21,
     .13,.18,.06,.23,.15,.20,.11,.25,.17,.14,.19,.09,.22,.16,.12,.20,.04,.18,.14,.23,
     .11,.17,.21,.13],
    [.19,.07],
    [.25,.40,.55,.50,.62,.68,.58,.65,.55,.62,.52,.58,.49,.55,.46,.52,.43,.49,.40,.46,
     .37,.43,.34,.40,.31,.37,.28,.34,.26,.31,.23,.29,.21,.27,.19,.25,.17,.23,.15,.21,
     .13,.19,.12,.17],
    [.17,.12,.21,.08,.15,.19,.05,.14,.23,.10,.18,.13,.20,.07,.16,.22,.11,.17,.14,.25,
     .09,.15,.19,.06,.13,.21,.10,.18,.15,.03,.20,.12,.16,.08,.22,.14,.18,.11,.24,.07,
     .15,.19,.12,.17,.04,.21,.13,.16,.09,.20,.14,.18,.11,.15],
    [.18,.07,.25,.13,.20,.02,.16,.28,.11,.19,.09],
]

x_ticks = [1.5, 2.0, 2.5, 3.0, 3.5, 4.0, 4.5, 5.0]
y_ticks = [0.0, 0.5, 1.0, 1.5, 2.0, 2.5]

# ---- build long table ---------------------------------------------------
series_passes = [[w23_n19_a, w23_n19_b],
                 [w25_n20_a, w25_n20_b, w25_n20_c],
                 [w25_m1_a, w25_m1_b, w25_m1_c]]
rows = []
for label, passes in zip(series_labels, series_passes):
    for segs in passes:
        for t0, t1, vals in zip(seg_start, seg_end, segs):
            t = np.linspace(t0, t1, len(vals))
            rows.append(pd.DataFrame({"time": t, "signal": vals, "series": label}))
df = pd.concat(rows, ignore_index=True)

# ---- plot ---------------------------------------------------------------
fig = plt.figure(figsize=(16.35, 9.08), dpi=100)
ax = fig.add_axes([0.0875, 0.1101, 0.8899, 0.8243])

sns.scatterplot(data=df, x="time", y="signal", hue="series",
                hue_order=series_labels, palette=series_colors,
                s=46, linewidth=0, ax=ax, zorder=2)

ax.vlines(lbo_times, 0, lbo_top, color="black", linewidth=2, zorder=3)
for t in lbo_times:
    ax.text(t, lbo_top, "LBO", rotation=90, ha="center", va="bottom",
            fontsize=27, zorder=4)

ax.set_xlim(1.5, 5.0)
ax.set_ylim(0, 2.5)
ax.set_xticks(x_ticks)
ax.set_yticks(y_ticks)
ax.tick_params(labelsize=27)
ax.set_xlabel("Time [s]", fontsize=28)
ax.set_ylabel("Signal [arb]", fontsize=28)
ax.set_title("Negative Triangularity Discharge 204397", fontsize=34)

handles, labels = ax.get_legend_handles_labels()
if ax.get_legend() is not None:
    ax.get_legend().remove()
ax.legend(handles, labels, loc="upper right", fontsize=28, labelspacing=0.62)

fig.savefig("out.png", dpi=100)
